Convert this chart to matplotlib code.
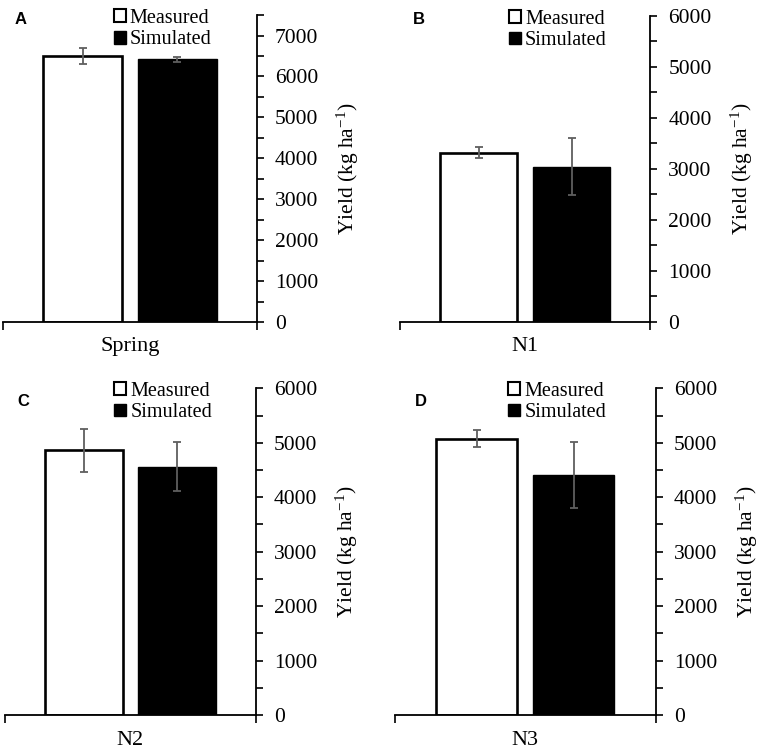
import matplotlib
matplotlib.use("Agg")
import matplotlib.pyplot as plt
from matplotlib.patches import Patch
from matplotlib.ticker import MultipleLocator

plt.rcParams['font.family'] = ['Liberation Serif', 'DejaVu Serif']
plt.rcParams['mathtext.fontset'] = 'custom'
plt.rcParams['mathtext.rm'] = 'Liberation Serif'
plt.rcParams['mathtext.it'] = 'Liberation Serif:italic'

# data
panels = ['A', 'B', 'C', 'D']
categories = ['Spring', 'N1', 'N2', 'N3']
measured = [6505, 3320, 4860, 5070]
measured_err = [200, 115, 400, 155]
simulated = [6420, 3045, 4555, 4405]
simulated_err = [60, 555, 450, 610]
y_tops = [7500, 6000, 6000, 6000]

# axes positions [left, bottom, width, height] in figure fraction
positions = [
    [0.004, 0.5735, 0.332, 0.4065],
    [0.523, 0.5735, 0.327, 0.4055],
    [0.0065, 0.053, 0.328, 0.4327],
    [0.516, 0.053, 0.3415, 0.4327],
]
letter_xy = [(15, 20), (413, 19), (17, 402), (415, 402)]

fig = plt.figure(figsize=(7.65, 7.55), dpi=100)

for i in range(4):
    ax = fig.add_axes(positions[i])
    centers = [0.5 - 0.186, 0.5 + 0.186]
    ax.bar(centers[0], measured[i], width=0.31, color='white', edgecolor='black',
           linewidth=1.9, zorder=2)
    ax.bar(centers[1], simulated[i], width=0.31, color='black', edgecolor='black',
           linewidth=1.0, zorder=2)
    ax.errorbar(centers, [measured[i], simulated[i]],
                yerr=[measured_err[i], simulated_err[i]], fmt='none',
                ecolor='#5f5f5f', elinewidth=1.3, capsize=3, capthick=1.3, zorder=3)

    ax.set_xlim(0, 1)
    ax.set_ylim(0, y_tops[i])
    ax.spines['top'].set_visible(False)
    ax.spines['left'].set_visible(False)
    ax.spines['right'].set_linewidth(1.3)
    ax.spines['bottom'].set_linewidth(1.3)

    ax.yaxis.tick_right()
    ax.yaxis.set_label_position('right')
    ax.yaxis.set_major_locator(MultipleLocator(1000))
    ax.yaxis.set_minor_locator(MultipleLocator(500))
    ax.tick_params(axis='y', which='both', direction='out', length=5, width=1.2,
                   labelsize=15.5, pad=8)
    ax.set_ylabel('Yield (kg ha$^{-1}$)', fontsize=15.5, labelpad=12)

    ax.set_xticks([0, 1])
    ax.set_xticklabels(['', ''])
    ax.tick_params(axis='x', direction='out', length=6, width=1.2)
    ax.text(0.5, -0.05, categories[i], transform=ax.transAxes, ha='center',
            va='top', fontsize=16)

    lx, ly = letter_xy[i]
    fig.text(lx / 765, 1 - ly / 755, panels[i], ha='left', va='center',
             fontsize=12, fontweight='bold', family='Liberation Sans')

    handles = [Patch(facecolor='white', edgecolor='black', linewidth=1.5),
               Patch(facecolor='black', edgecolor='black')]
    ax.legend(handles, ['Measured', 'Simulated'], loc='upper left',
              bbox_to_anchor=(0.435, 1.02), frameon=False, fontsize=14.5,
              handlelength=0.6, handleheight=0.6, handletextpad=0.2,
              labelspacing=0.12, borderaxespad=0, borderpad=0)

fig.savefig('out.png', dpi=100)
